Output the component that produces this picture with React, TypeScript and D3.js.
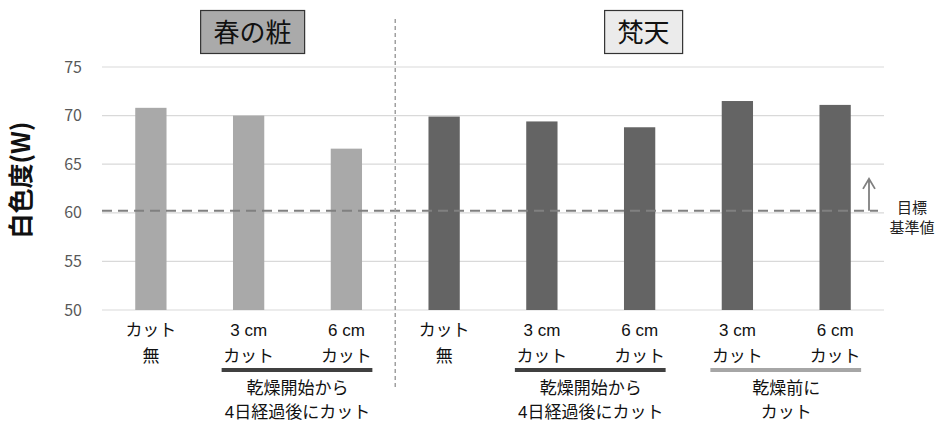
import React from 'react';
import * as d3 from 'd3';

// Whiteness (W) of each treatment, two varieties
const varieties = ['春の粧', '梵天'];
const barVariety = [0, 0, 0, 1, 1, 1, 1, 1];
const labelLine1 = ['カット', '3 cm', '6 cm', 'カット', '3 cm', '6 cm', '3 cm', '6 cm'];
const labelLine2 = ['無', 'カット', 'カット', '無', 'カット', 'カット', 'カット', 'カット'];
const whiteness = [70.8, 70.0, 66.6, 69.9, 69.4, 68.8, 71.5, 71.1];
const yTicks = [50, 55, 60, 65, 70, 75];
const targetValue = 60.2;
const targetLabel = ['目標', '基準値'];
const yTitle = '白色度(W)';

// Treatment groups spanning pairs of bars
const groupFrom = [1, 4, 6];
const groupTo = [2, 5, 7];
const groupLines = [
  ['乾燥開始から', '4日経過後にカット'],
  ['乾燥開始から', '4日経過後にカット'],
  ['乾燥前に', 'カット'],
];
const groupTone = ['dark', 'dark', 'light'];

const W = 942;
const H = 423;
const FONT = '"Noto Sans CJK JP", "Noto Sans", sans-serif';
const LABEL_FONT = '"Liberation Sans", "Noto Sans CJK JP", sans-serif';
const varietyFill = ['#a9a9a9', '#646464'];
const boxFill = ['#aaaaaa', '#ebebeb'];

export default function App() {
  const idx = whiteness.map((_, i) => i);
  const x = d3
    .scaleBand<number>()
    .domain(idx)
    .range([102, 884])
    .paddingInner(0.68)
    .paddingOuter(0.34);
  const y = d3.scaleLinear().domain([50, 75]).range([310, 67]);
  const cx = (i: number) => (x(i) as number) + x.bandwidth() / 2;
  const step = x.step();
  const divX = (x(3) as number) - (step - x.bandwidth()) / 2;
  const ty = y(targetValue);
  const arrowX = 869;

  return (
    <div style={{ position: 'fixed', left: 0, top: 0 }}>
      <svg width={W} height={H} style={{ display: 'block', background: '#fff' }} fontFamily={FONT}>
        {/* gridlines */}
        {yTicks.map((t) => (
          <g key={t}>
            <line x1={102} x2={884} y1={y(t)} y2={y(t)} stroke="#d9d9d9" strokeWidth={1.2} />
            <text x={82} y={y(t) + 5.5} textAnchor="end" fontSize={16} fill="#595959">
              {t}
            </text>
          </g>
        ))}

        {/* bars */}
        {whiteness.map((v, i) => (
          <rect
            key={i}
            x={x(i)}
            y={y(v)}
            width={x.bandwidth()}
            height={y(50) - y(v)}
            fill={varietyFill[barVariety[i]]}
          />
        ))}

        {/* target line and arrow */}
        <line x1={102} x2={878} y1={ty} y2={ty} stroke="#808080" strokeWidth={2} strokeDasharray="10 6" />
        <path
          d={`M${arrowX},${ty} V${ty - 32} M${arrowX - 6},${ty - 22} L${arrowX},${ty - 32} L${arrowX + 6},${ty - 22}`}
          fill="none"
          stroke="#808080"
          strokeWidth={1.8}
        />
        {targetLabel.map((s, i) => (
          <text key={s} x={912} y={213 + i * 19.5} textAnchor="middle" fontSize={15} fill="#222">
            {s}
          </text>
        ))}

        {/* variety divider */}
        <line x1={divX} x2={divX} y1={19} y2={388} stroke="#a0a0a0" strokeWidth={1.5} strokeDasharray="4 3" />

        {/* variety titles */}
        {varieties.map((name, k) => {
          const members = idx.filter((i) => barVariety[i] === k);
          const c = (d3.mean(members, cx) as number) + 4;
          const w = name.length * 26 + 26;
          return (
            <g key={name}>
              <rect x={c - w / 2} y={10.5} width={w} height={43} fill={boxFill[k]} stroke="#333" strokeWidth={1.2} />
              <text x={c} y={42} textAnchor="middle" fontSize={26} fill="#111">
                {name}
              </text>
            </g>
          );
        })}

        {/* category labels */}
        {idx.map((i) => (
          <g key={i} fontFamily={LABEL_FONT}>
            <text x={cx(i)} y={336} textAnchor="middle" fontSize={17} fill="#111">
              {labelLine1[i]}
            </text>
            <text x={cx(i)} y={362} textAnchor="middle" fontSize={17} fill="#111">
              {labelLine2[i]}
            </text>
          </g>
        ))}

        {/* treatment groups */}
        {groupFrom.map((a, g) => {
          const b = groupTo[g];
          const mid = (cx(a) + cx(b)) / 2;
          return (
            <g key={g} fontFamily={LABEL_FONT}>
              <line
                x1={cx(a) - 27}
                x2={cx(b) + 26}
                y1={370}
                y2={370}
                stroke={groupTone[g] === 'dark' ? '#404040' : '#a6a6a6'}
                strokeWidth={4}
              />
              {groupLines[g].map((s, j) => (
                <text key={j} x={mid} y={394 + j * 24} textAnchor="middle" fontSize={17} fill="#111">
                  {s}
                </text>
              ))}
            </g>
          );
        })}

        {/* y-axis title */}
        <text
          transform={`translate(30,180) rotate(-90)`}
          textAnchor="middle"
          fontSize={25}
          fontWeight="bold"
          fill="#111"
        >
          {yTitle}
        </text>
      </svg>
    </div>
  );
}
